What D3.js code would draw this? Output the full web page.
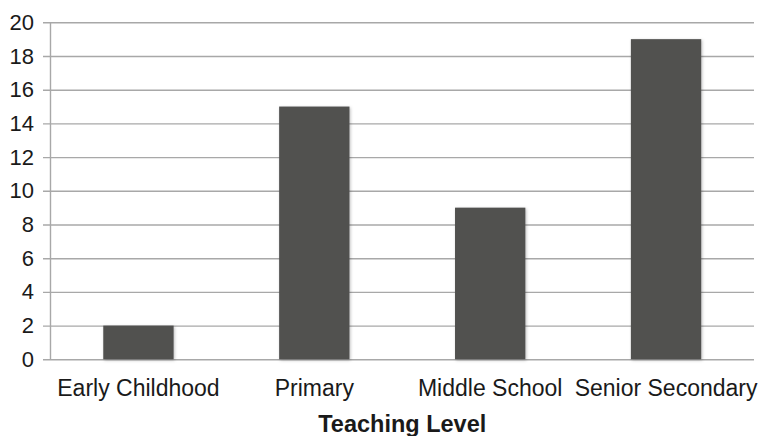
<!DOCTYPE html>
<html>
<head>
<meta charset="utf-8">
<script src="https://cdn.jsdelivr.net/npm/d3@7/dist/d3.min.js"></script>
<style>
  html, body { margin: 0; padding: 0; background: #fff; }
  svg { display: block; }
  text { font-family: "Liberation Sans", Arial, Helvetica, sans-serif; fill: #1a1a1a; }
</style>
</head>
<body>
<svg id="chart" width="763" height="436"></svg>
<script>
// Number of teachers by teaching level
const categories = ["Early Childhood", "Primary", "Middle School", "Senior Secondary"];
const values = [2, 15, 9, 19];
const yTicks = [0, 2, 4, 6, 8, 10, 12, 14, 16, 18, 20];
const xTitle = "Teaching Level";

const svg = d3.select("#chart");
const margin = { left: 50.5, right: 9, top: 22.3, bottom: 76.7 };
const W = 763, H = 436;

const x = d3.scaleBand()
  .domain(categories)
  .range([margin.left, W - margin.right])
  .paddingInner(0.6)
  .paddingOuter(0.3);

const y = d3.scaleLinear()
  .domain([0, 20])
  .range([H - margin.bottom, margin.top]);

// soft shadow under the bars
const defs = svg.append("defs");
const f = defs.append("filter").attr("id", "shadow")
  .attr("x", "-20%").attr("y", "-20%").attr("width", "140%").attr("height", "140%");
f.append("feDropShadow")
  .attr("dx", 1).attr("dy", 1).attr("stdDeviation", 1.6)
  .attr("flood-color", "#000").attr("flood-opacity", 0.25);

// horizontal gridlines, extending left as tick marks
const yAxis = d3.axisLeft(y)
  .tickValues(yTicks)
  .tickSize(-(W - margin.right - margin.left))
  .tickPadding(9)
  .tickFormat(d3.format("d"));

const gy = svg.append("g")
  .attr("transform", `translate(${margin.left},0)`)
  .call(yAxis);
gy.select(".domain").remove();
gy.selectAll(".tick line")
  .attr("x1", -7.5)
  .attr("stroke", "#a8a8a8")
  .attr("stroke-width", 1.4);
gy.selectAll(".tick text")
  .attr("x", -16.5)
  .attr("font-size", 22)
  .attr("fill", "#1a1a1a");

// vertical axis line
svg.append("line")
  .attr("x1", margin.left).attr("x2", margin.left)
  .attr("y1", y(20)).attr("y2", y(0))
  .attr("stroke", "#a8a8a8").attr("stroke-width", 1.4);

// bars
svg.append("g").selectAll("rect")
  .data(categories)
  .join("rect")
  .attr("x", d => x(d))
  .attr("width", x.bandwidth())
  .attr("y", (d, i) => y(values[i]))
  .attr("height", (d, i) => y(0) - y(values[i]))
  .attr("fill", "#515150")
  .attr("filter", "url(#shadow)");

// category labels
const xAxis = d3.axisBottom(x).tickSize(0).tickPadding(0);
const gx = svg.append("g")
  .attr("transform", `translate(0,${y(0)})`)
  .call(xAxis);
gx.select(".domain").remove();
gx.selectAll(".tick text")
  .attr("y", 37)
  .attr("dy", 0)
  .attr("font-size", 23)
  .attr("fill", "#1a1a1a");

// axis title
svg.append("text")
  .attr("x", (margin.left + W - margin.right) / 2)
  .attr("y", 431.7)
  .attr("text-anchor", "middle")
  .attr("font-size", 23.5)
  .attr("font-weight", "bold")
  .text(xTitle);
</script>
</body>
</html>
